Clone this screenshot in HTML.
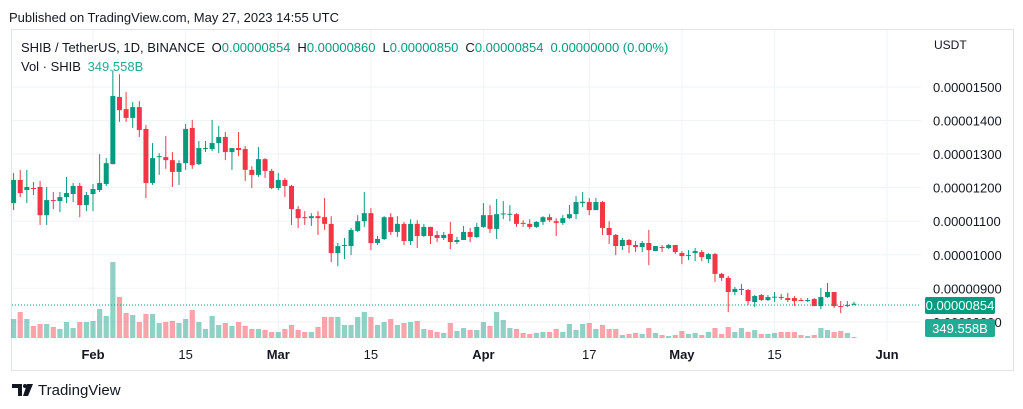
<!DOCTYPE html>
<html><head><meta charset="utf-8"><style>
html,body{margin:0;padding:0;background:#fff;width:1023px;height:409px;overflow:hidden}
svg{display:block;font-family:"Liberation Sans",sans-serif}
</style></head><body>
<svg id="chart" width="1023" height="409" viewBox="0 0 1023 409" xmlns="http://www.w3.org/2000/svg">
<text x="9" y="22" font-size="13" fill="#131722">Published on TradingView.com, May 27, 2023 14:55 UTC</text>
<rect x="11.5" y="29.5" width="1002" height="341" fill="#fff" stroke="#e0e3eb"/>
<g id="grid"></g>
<g id="vol"></g>
<g id="candles"></g>
<line x1="12" y1="305" x2="921" y2="305" stroke="#089981" stroke-dasharray="1,2" stroke-width="1"/>
<g id="yaxis"></g>
<g id="xaxis"></g>
<text x="934" y="49" font-size="12" fill="#131722">USDT</text>
<g font-size="13">
<text x="21" y="52" fill="#131722">SHIB / TetherUS, 1D, BINANCE <tspan dx="3">O</tspan><tspan fill="#089981">0.00000854</tspan><tspan dx="7">H</tspan><tspan fill="#089981">0.00000860</tspan><tspan dx="7">L</tspan><tspan fill="#089981">0.00000850</tspan><tspan dx="7">C</tspan><tspan fill="#089981">0.00000854</tspan><tspan dx="7" fill="#089981">0.00000000 (0.00%)</tspan></text>
<text x="21" y="71" fill="#131722">Vol · SHIB <tspan dx="3" fill="#22ab94">349.558B</tspan></text>
</g>
<rect x="925" y="319" width="70" height="18" rx="2" fill="#22ab94"/>
<text x="960" y="333" font-size="13" fill="#fff" text-anchor="middle">349.558B</text>
<rect x="925" y="297" width="70" height="17" rx="2" fill="#089981"/>
<text x="960" y="310" font-size="13" fill="#fff" text-anchor="middle">0.00000854</text>
<g>
<path d="M12 384h10v12h-4v-8h-6z M27 384h6l-5 12h-5z" fill="#131722"/>
<circle cx="25" cy="386" r="2" fill="#131722"/>
<text x="38" y="395" font-size="15" fill="#131722">TradingView</text>
</g>
</svg>
<script>
const opens=[1154,1223,1193,1199,1202,1118,1163,1160,1172,1181,1205,1148,1181,1193,1211,1270,1470,1434,1408,1440,1375,1214,1291,1291,1282,1247,1273,1378,1270,1315,1315,1333,1351,1306,1318,1315,1253,1238,1285,1250,1199,1223,1205,1136,1112,1109,1115,1112,1092,1005,1026,1026,1071,1100,1124,1035,1047,1112,1068,1092,1041,1092,1056,1083,1059,1050,1062,1038,1044,1068,1053,1083,1118,1077,1121,1121,1121,1095,1092,1083,1098,1112,1100,1095,1109,1121,1154,1157,1133,1157,1080,1059,1026,1044,1029,1023,1035,1011,1023,1020,1029,1005,996,1005,1008,987,1002,943,931,889,895,895,859,880,865,874,874,871,871,865,862,868,847,874,889,847,847,854];
const highs=[1244,1253,1253,1217,1220,1202,1187,1187,1232,1214,1214,1187,1211,1300,1288,1550,1538,1485,1455,1458,1387,1333,1303,1354,1306,1282,1390,1402,1339,1339,1402,1384,1366,1318,1366,1324,1264,1321,1288,1256,1244,1229,1208,1145,1130,1124,1130,1169,1115,1035,1050,1080,1118,1187,1139,1056,1115,1124,1115,1098,1106,1103,1092,1083,1071,1068,1098,1053,1086,1080,1095,1154,1148,1166,1160,1148,1124,1103,1106,1100,1115,1121,1109,1118,1148,1175,1187,1169,1169,1160,1100,1062,1050,1047,1041,1041,1074,1026,1029,1032,1029,1011,1014,1020,1014,1005,1005,946,937,904,913,898,880,883,880,889,883,886,877,871,871,871,901,916,889,862,862,860];
const lows=[1133,1172,1154,1178,1089,1089,1136,1127,1154,1157,1112,1130,1130,1187,1205,1270,1396,1396,1378,1351,1169,1208,1238,1256,1202,1208,1253,1256,1267,1306,1309,1303,1282,1253,1294,1220,1199,1232,1229,1196,1193,1172,1089,1080,1089,1086,1059,1074,978,966,987,999,1068,1083,1014,1029,1044,1059,1053,1029,1029,1020,1053,1032,1038,1044,1017,1032,1044,1038,1050,1080,1065,1047,1106,1100,1083,1083,1077,1080,1089,1098,1056,1089,1106,1106,1142,1118,1133,1059,1032,999,1014,1005,1008,1008,969,1011,1008,1017,1002,972,984,981,981,975,919,922,829,880,880,850,844,862,862,859,865,859,847,862,859,847,838,871,841,826,844,850];
const closes=[1223,1184,1202,1196,1118,1163,1160,1172,1184,1205,1148,1178,1196,1214,1273,1473,1431,1408,1440,1372,1214,1288,1294,1282,1247,1273,1375,1267,1318,1318,1333,1351,1306,1318,1312,1253,1238,1285,1250,1199,1223,1205,1136,1109,1109,1115,1109,1092,1005,1026,1029,1074,1100,1124,1035,1047,1112,1068,1092,1041,1092,1056,1083,1056,1050,1059,1038,1044,1068,1053,1083,1118,1077,1121,1123,1122,1092,1092,1083,1098,1112,1103,1095,1109,1121,1157,1158,1133,1157,1080,1059,1026,1044,1029,1023,1035,1014,1026,1020,1029,1008,996,999,1011,993,1002,943,931,889,898,898,862,877,865,874,875,871,865,862,862,865,847,874,889,847,846,850,854];
const volumes=[380,520,380,240,280,280,220,180,320,200,320,320,340,580,440,1520,820,500,460,320,480,480,300,320,340,300,380,560,320,180,440,260,300,240,320,240,180,180,160,120,120,180,260,160,120,120,220,420,420,420,260,260,420,520,420,260,320,380,260,300,320,340,180,160,120,100,300,140,200,160,160,320,240,520,360,200,180,100,80,100,120,120,180,120,280,160,280,300,180,260,180,180,60,80,100,80,200,100,60,40,60,140,80,100,60,120,200,80,220,120,200,120,160,80,80,100,120,120,120,60,40,60,200,160,120,140,100,20];
const priceTicks=[1500,1400,1300,1200,1100,1000,900,800];
const priceTickLabels=["0.00001500","0.00001400","0.00001300","0.00001200","0.00001100","0.00001000","0.00000900","0.00000800"];
const dateTicks=[12,26,40,54,71,87,101,115,132];
const dateTickLabels=["Feb","15","Mar","15","Apr","17","May","15","Jun"];
const boldTicks=[true,false,true,false,true,false,true,false,true];

const NS="http://www.w3.org/2000/svg";
const yP=p=>87+(1500-p)*0.3355;
const xI=i=>93+(i-12)*6.617;
const yV=v=>338-v/20;
function mk(tag,attrs,parent){const e=document.createElementNS(NS,tag);for(const k in attrs)e.setAttribute(k,attrs[k]);parent.appendChild(e);return e;}
const grid=document.getElementById('grid'),vol=document.getElementById('vol'),cg=document.getElementById('candles'),ya=document.getElementById('yaxis'),xa=document.getElementById('xaxis');
priceTicks.forEach((p,k)=>{
 const l=mk('line',{x1:12,x2:921,y1:yP(p),y2:yP(p),stroke:'#f0f3fa'},grid);
 
 
 const t=mk('text',{x:933,y:yP(p)+5,'font-size':13,fill:'#131722'},ya);
 t.textContent=priceTickLabels[k];
 
 
});
dateTicks.forEach((d,k)=>{
 const l=mk('line',{x1:xI(d),x2:xI(d),y1:30,y2:342,stroke:'#f0f3fa'},grid);
 
 
 const t=mk('text',{x:xI(d),y:359,'font-size':13,fill:'#131722','text-anchor':'middle','font-weight':boldTicks[k]?'bold':'normal'},xa);
 t.textContent=dateTickLabels[k];
 
 
});
opens.forEach((o,i)=>{
 const c=closes[i],up=c>=o,col=up?'#089981':'#f23645',x=xI(i);
 const vb=mk('rect',{x:x-2.6,y:yV(volumes[i]),width:5.2,height:338-yV(volumes[i]),fill:up?'rgba(8,153,129,0.45)':'rgba(242,54,69,0.45)'},vol);
 
 
 const w=mk('line',{x1:x,x2:x,y1:yP(highs[i]),y2:yP(lows[i]),stroke:col,'stroke-width':1},cg);
 
 
 const top=yP(Math.max(o,c)),bot=yP(Math.min(o,c));
 const b=mk('rect',{x:x-2.5,y:top,width:5,height:Math.max(1,bot-top),fill:col},cg);
 
 
});
</script>
</body></html>
